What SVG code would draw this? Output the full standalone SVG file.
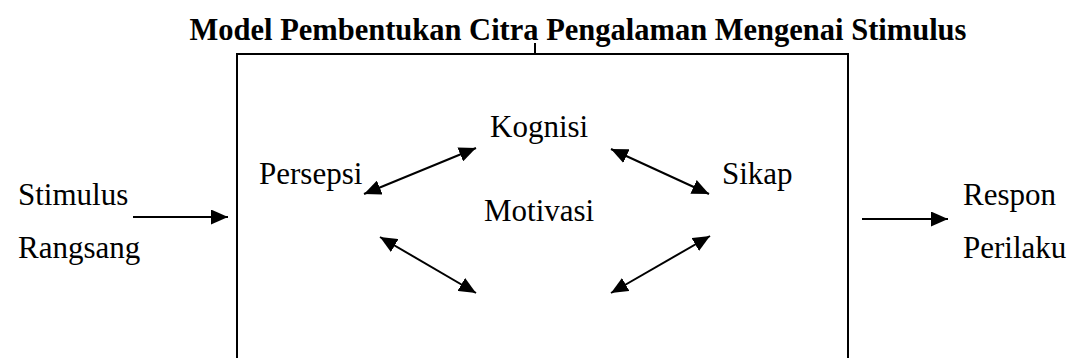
<svg xmlns="http://www.w3.org/2000/svg" width="1071" height="358" viewBox="0 0 1071 358">
  <style>
    .lbl { font-family: "Liberation Serif", "Times New Roman", serif; font-size: 31px; fill: #000; }
    .title { font-family: "Liberation Serif", "Times New Roman", serif; font-size: 30.5px; font-weight: bold; fill: #000; }
    .ln { stroke: #000; stroke-width: 2; fill: none; }
    .frame { stroke: #000; stroke-width: 2; fill: none; }
  </style>
  <defs>
    <!-- filled triangular arrowhead, reused at both ends of the two-way links -->
    <marker id="head" markerUnits="userSpaceOnUse" markerWidth="19" markerHeight="15" refX="17" refY="7.5" orient="auto-start-reverse">
      <path d="M0,0 L17,7.5 L0,15 Z" fill="#000"/>
    </marker>
  </defs>
  <rect width="1071" height="358" fill="#fff"/>

  <g id="title">
    <text class="title" x="578" y="40" text-anchor="middle">Model Pembentukan Citra Pengalaman Mengenai Stimulus</text>
  </g>

  <g id="frame">
    <path class="frame" d="M237,362 L237,54 L848,54 L848,362"/>
    <line class="frame" x1="535" y1="43" x2="535" y2="54"/>
  </g>

  <g id="stimulus">
    <text class="lbl" x="18" y="205">Stimulus</text>
    <text class="lbl" x="18" y="258">Rangsang</text>
  </g>
  <g id="persepsi">
    <text class="lbl" x="259" y="184">Persepsi</text>
  </g>
  <g id="kognisi">
    <text class="lbl" x="490" y="137">Kognisi</text>
  </g>
  <g id="sikap">
    <text class="lbl" x="722" y="184">Sikap</text>
  </g>
  <g id="motivasi">
    <text class="lbl" x="484" y="221">Motivasi</text>
  </g>
  <g id="respon">
    <text class="lbl" x="963" y="205">Respon</text>
    <text class="lbl" x="963" y="258">Perilaku</text>
  </g>

  <g id="connectors">
    <line class="ln" x1="133" y1="217" x2="228" y2="217" marker-end="url(#head)"/>
    <line class="ln" x1="862" y1="219" x2="948" y2="219" marker-end="url(#head)"/>
    <line class="ln" x1="364" y1="194" x2="476" y2="148" marker-start="url(#head)" marker-end="url(#head)"/>
    <line class="ln" x1="611" y1="149" x2="709" y2="194" marker-start="url(#head)" marker-end="url(#head)"/>
    <line class="ln" x1="380" y1="237" x2="476" y2="293" marker-start="url(#head)" marker-end="url(#head)"/>
    <line class="ln" x1="611" y1="293" x2="710" y2="236" marker-start="url(#head)" marker-end="url(#head)"/>
  </g>
</svg>
